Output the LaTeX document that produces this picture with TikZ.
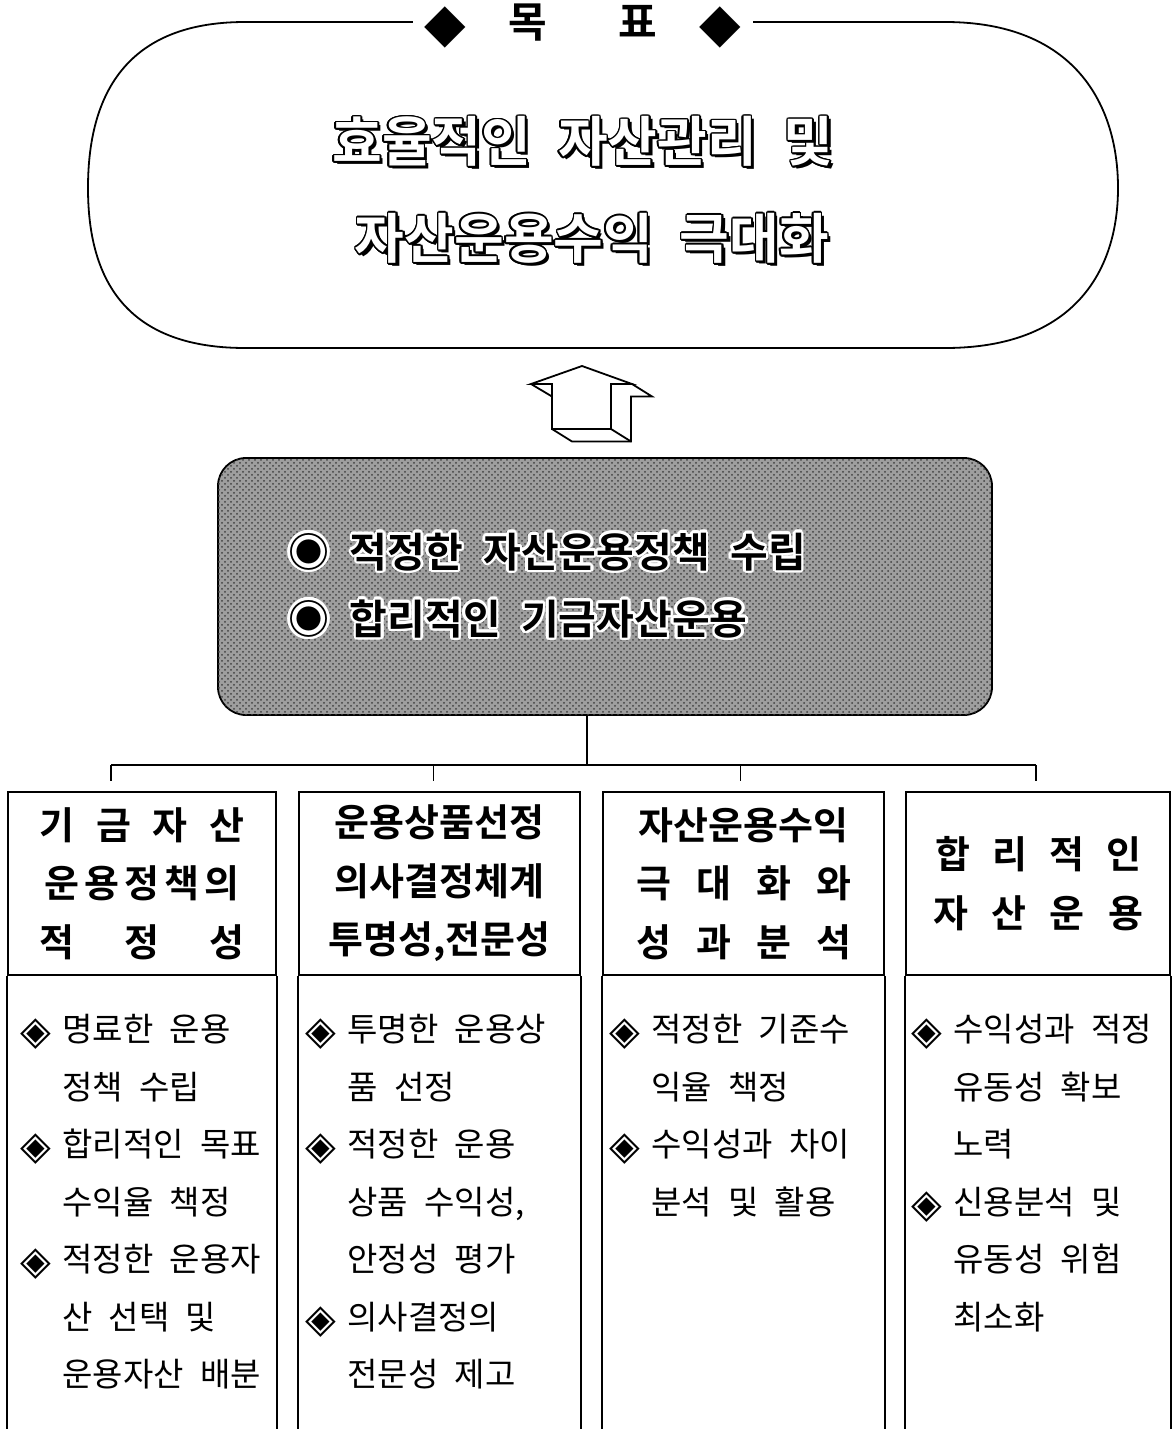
\documentclass[tikz,border=0pt]{standalone}
\usepackage{fontspec}
\setmainfont{Noto Sans CJK KR}[WordSpace=2.2, BoldFont={Noto Sans CJK KR Bold}]
\newfontfamily\symfont{DejaVu Sans}
\usepackage[copies]{contour}
\usepackage{tikz}
\usetikzlibrary{positioning, patterns}
\newcommand{\bul}{\makebox[22pt][l]{\hspace{1pt}\raisebox{-1.6pt}{\symfont\fontsize{20}{20}\selectfont ◈}}}
\newcommand{\ind}{\hspace*{22pt}}
\newcommand{\bigdia}{\raisebox{-2pt}{\symfont\fontsize{27}{27}\selectfont ◆}}
\newcommand{\hollow}[1]{\rlap{\hspace{1.6pt}\raisebox{-1.6pt}{\textcolor{black}{#1}}}\contour{black}{#1}}
\tikzset{
  outline/.style={line width=0.9pt},
  goaltext/.style={font=\bfseries\fontsize{27}{30}\selectfont, text=white, inner sep=0pt},
  titlebox/.style={fill=white, inner xsep=6pt, inner ysep=1pt, anchor=base, font=\bfseries\fontsize{21}{24}\selectfont},
  policybox/.style={outline, draw, rounded corners=14pt, fill=black!38,
    postaction={pattern=crosshatch dots, pattern color=black!75},
    minimum width=387pt, minimum height=128.5pt},
  policytext/.style={font=\bfseries\fontsize{20.5}{24}\selectfont, inner sep=0pt, anchor=west},
  colhead/.style={outline, draw, minimum height=91.5pt, align=center,
    font=\bfseries\fontsize{19}{29.25}\selectfont},
  colbody/.style={anchor=north west, inner sep=0pt, align=left,
    font=\fontsize{16.5}{28.75}\selectfont}
}
\contourlength{0.8pt}
\begin{document}
\begin{tikzpicture}[x=0.5pt, y=-0.5pt]
  \useasboundingbox (0,0) rectangle (1174,1429);
  % Goal
  \draw[outline] (245,22) -- (945,22)
    .. controls (1075,22) and (1118,105) .. (1118,188)
    .. controls (1118,270) and (1075,348) .. (945,348)
    -- (245,348)
    .. controls (118,348) and (88,270) .. (88,188)
    .. controls (88,105) and (118,22) .. (245,22) -- cycle;
  \node[titlebox] (title) at (583,38) {\bigdia\hspace{21pt}목\hspace{36pt}표\hspace{21pt}\bigdia};
  \node[goaltext] (goalA) at (583,143) {\hollow{효율적인 자산관리 및}};
  \node[goaltext] (goalB) at (592,240) {\hollow{자산운용수익 극대화}};
  % Arrow
  \draw[outline, fill=white] (582,366) -- (531,384) -- (552,384) -- (552,429)
    -- (611,429) -- (611,384) -- (632,384) -- cycle;
  \draw[outline] (632,384) -- (652,396.5) -- (631,396.5) -- (631,441.5)
    -- (572,441.5) -- (552,429);
  \draw[outline] (611,429) -- (631,441.5);
  \draw[outline] (531,384) -- (552,396.5);
  % Policy
  \node[policybox] (policy) at (605,586.5) {};
  \node[policytext] (polA) at (288,553) {{\contourlength{1.3pt}\contour{white}{◉ 적정한 자산운용정책 수립}}};
  \node[policytext] (polB) at (288,620) {{\contourlength{1.3pt}\contour{white}{◉ 합리적인 기금자산운용}}};
  % Columns
  \node[colhead, minimum width=134pt] (head1) at (142,883.5)
    {\makebox[102.5pt][s]{기\hfil 금\hfil 자\hfil 산}\\
     \makebox[97.5pt][s]{운\hfil 용\hfil 정\hfil 책\hfil 의}\\
     \makebox[102.5pt][s]{적\hfil 정\hfil 성}};
  \node[colhead, minimum width=140.5pt] (head2) at (439.5,883.5)
    {운용상품선정\\ 의사결정체계\\ 투명성,전문성};
  \node[colhead, minimum width=140.5pt] (head3) at (743.5,883.5)
    {자산운용수익\\
     \makebox[107.5pt][s]{극\hfil 대\hfil 화\hfil 와}\\
     \makebox[107.5pt][s]{성\hfil 과\hfil 분\hfil 석}};
  \node[colhead, minimum width=132pt] (head4) at (1038,883.5)
    {\makebox[103pt][s]{합\hfil 리\hfil 적\hfil 인}\\
     \makebox[105pt][s]{자\hfil 산\hfil 운\hfil 용}};
  \foreach \c in {head1,head2,head3,head4}{
    \draw[outline] (\c.south west) -- ++(0,470);
    \draw[outline] (\c.south east) -- ++(0,470);
  }
  \node[colbody] (body1) at (18,1014)
    {\bul 명료한 운용\\ \ind 정책 수립\\ \bul 합리적인 목표\\ \ind 수익율 책정\\
     \bul 적정한 운용자\\ \ind 산 선택 및\\ \ind 운용자산 배분};
  \node[colbody] (body2) at (303,1014)
    {\bul 투명한 운용상\\ \ind 품 선정\\ \bul 적정한 운용\\ \ind 상품 수익성,\\
     \ind 안정성 평가\\ \bul 의사결정의\\ \ind 전문성 제고};
  \node[colbody] (body3) at (607,1014)
    {\bul 적정한 기준수\\ \ind 익율 책정\\ \bul 수익성과 차이\\ \ind 분석 및 활용};
  \node[colbody] (body4) at (909,1014)
    {\bul 수익성과 적정\\ \ind 유동성 확보\\ \ind 노력\\ \bul 신용분석 및\\
     \ind 유동성 위험\\ \ind 최소화};
  % Links
  \coordinate (bus) at (587,765);
  \draw[outline, line width=0.6pt] (policy.south -| bus) -- (bus);
  \draw[outline, line width=0.6pt] ([xshift=-15.5pt]head1.north |- bus) -- ([xshift=-1pt]head4.north |- bus);
  \foreach \c/\dx in {head1/-15.5pt, head2/-3.2pt, head3/-1.7pt, head4/-1pt}
    \draw[outline, line width=0.6pt, shorten >=5pt] ([xshift=\dx]\c.north |- bus) -- ([xshift=\dx]\c.north);
\end{tikzpicture}
\end{document}
